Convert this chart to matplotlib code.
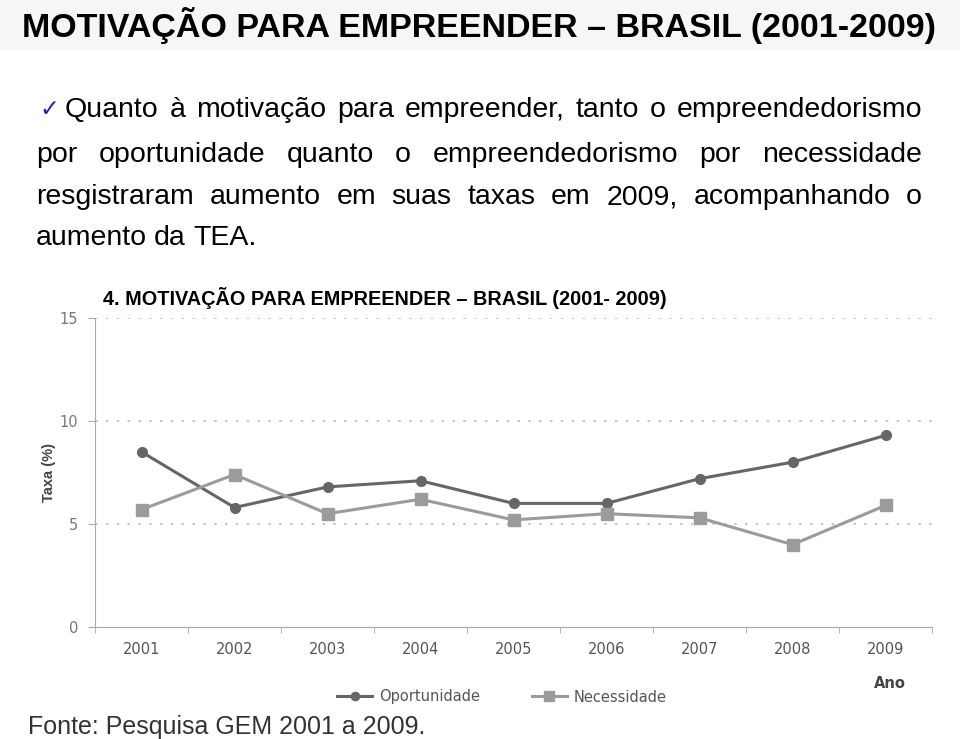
import matplotlib
matplotlib.use('Agg')
import matplotlib.pyplot as plt
from matplotlib.patches import Rectangle

W, H = 960, 739

#- dados (GEM 2001-2009)
anos = ['2001', '2002', '2003', '2004', '2005', '2006', '2007', '2008', '2009']
oportunidade = [8.5, 5.8, 6.8, 7.1, 6.0, 6.0, 7.2, 8.0, 9.3]
necessidade = [5.7, 7.4, 5.5, 6.2, 5.2, 5.5, 5.3, 4.0, 5.9]
yticks = [0, 5, 10, 15]

titulo = 'MOTIVAÇÃO PARA EMPREENDER – BRASIL (2001-2009)'
subtitulo = '4. MOTIVAÇÃO PARA EMPREENDER – BRASIL (2001- 2009)'
linhas = [
    'Quanto à motivação para empreender, tanto o empreendedorismo',
    'por oportunidade quanto o empreendedorismo por necessidade',
    'resgistraram aumento em suas taxas em 2009, acompanhando o',
    'aumento da TEA.',
]
fonte = 'Fonte: Pesquisa GEM 2001 a 2009.'

fig = plt.figure(figsize=(W/100, H/100), dpi=100)
fig.patch.set_facecolor('white')

def fx(px):
    return px / W

def fy(py):
    return 1 - py / H

#- faixa do titulo
fig.patches.append(Rectangle((0, fy(50)), 1, 50/H, transform=fig.transFigure,
                             facecolor='#f6f6f6', edgecolor='none', zorder=0))
fig.text(fx(22), fy(26), titulo, fontsize=24.5, fontweight='bold',
         family=['Liberation Sans Narrow', 'Liberation Sans'], va='center', ha='left')

#- paragrafo justificado
fig.text(fx(39), fy(109), '✓', fontsize=17, color='#1c2a9c', va='center',
         family='DejaVu Sans')
renderer = fig.canvas.get_renderer()
ys = [110, 155, 197, 238]
x0s = [65, 36, 36, 36]
x1 = 922
for i, (linha, y) in enumerate(zip(linhas, ys)):
    palavras = linha.split()
    objs = [fig.text(0, fy(y), p, fontsize=20.5, family='Liberation Sans',
                     va='center', ha='left', color='black') for p in palavras]
    larg = [o.get_window_extent(renderer).width for o in objs]
    if i < len(linhas) - 1:
        gap = (x1 - x0s[i] - sum(larg)) / (len(palavras) - 1)
    else:
        gap = 7
    x = x0s[i]
    for o, w in zip(objs, larg):
        o.set_x(fx(x))
        x += w + gap

#- grafico
ax = fig.add_axes([fx(95), fy(627), fx(932) - fx(95), (627 - 318) / H])
xs = list(range(len(anos)))
ax.plot(xs, oportunidade, color='#666666', lw=2.2, marker='o', ms=7,
        label='Oportunidade', zorder=3)
ax.plot(xs, necessidade, color='#9b9b9b', lw=2.2, marker='s', ms=8,
        label='Necessidade', zorder=3)
ax.set_xlim(-0.5, len(anos) - 0.5)
ax.set_ylim(0, 15)
ax.set_yticks(yticks)
ax.set_yticklabels([str(v) for v in yticks])
ax.set_xticks(xs)
ax.set_xticklabels(anos)
ax.set_xticks([k - 0.5 for k in range(len(anos) + 1)], minor=True)
ax.tick_params(axis='x', which='major', length=0, pad=11, labelsize=10.5,
               labelcolor='#555555')
ax.tick_params(axis='x', which='minor', length=4, color='#aaaaaa', direction='out')
ax.tick_params(axis='y', length=5, color='#aaaaaa', pad=7, labelsize=10.5,
               labelcolor='#777777')
for s in ['top', 'right']:
    ax.spines[s].set_visible(False)
ax.spines['left'].set_color('#aaaaaa')
ax.spines['bottom'].set_color('#aaaaaa')
for v in yticks[1:]:
    ax.axhline(v, color='#bbbbbb', lw=1.2, ls=(0, (1.5, 5)), zorder=1)
ax.set_ylabel('Taxa (%)', fontsize=10.5, fontweight='bold', color='#444444',
              labelpad=3, family='Liberation Sans')
ax.patch.set_alpha(0)

fig.text(fx(103), fy(298), subtitulo, fontsize=14.3, fontweight='bold',
         family='Liberation Sans', va='center', ha='left')
fig.text(fx(890), fy(683), 'Ano', fontsize=10.5, fontweight='bold',
         color='#444444', va='center', ha='center')

handles, labels = ax.get_legend_handles_labels()
fig.legend(handles, labels, loc='center', bbox_to_anchor=(fx(502), fy(697)),
           ncol=2, frameon=False, fontsize=10.5, labelcolor='#555555',
           handlelength=2.4, handletextpad=0.5, columnspacing=3.5, markerscale=0.85)

fig.text(fx(28), fy(727), fonte, fontsize=18, family='Liberation Sans',
         color='#333333', va='center', ha='left')

plt.savefig('out.png', dpi=100)
